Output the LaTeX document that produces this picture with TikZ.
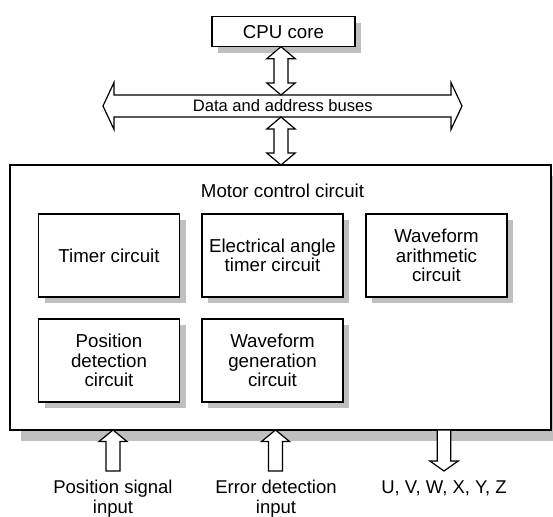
\documentclass[tikz,border=0pt]{standalone}
\usepackage{fontspec}
\setmainfont{Liberation Sans}
\usetikzlibrary{calc,shadows}
\definecolor{shade}{gray}{0.75}
\begin{document}
\begin{tikzpicture}[x=1pt,y=-1pt,
  outline/.style={draw, line width=1.2pt, fill=white, line join=miter},
  box/.style={outline, minimum width=141pt, minimum height=83pt, align=center, inner sep=0pt,
    font=\fontsize{18.7}{19.3}\selectfont,
    drop shadow={shadow xshift=6pt, shadow yshift=-6pt, fill=shade, opacity=1}},
  lbl/.style={font=\fontsize{18.5}{20}\selectfont, align=center, inner sep=0pt},
  blk/.style={draw, line width=1.2pt, fill=white, line join=miter}]
\useasboundingbox (0,0) rectangle (553,516);

% main box
\node[outline, minimum width=541pt, minimum height=265pt, inner sep=0pt,
  drop shadow={shadow xshift=11pt, shadow yshift=-11pt, fill=shade, opacity=1}] (main) at (280.5,297.5) {};
\node[lbl, font=\fontsize{18.7}{19.3}\selectfont] (mct) at (282.5,191) {Motor control circuit};

% inner boxes
\node[box] (timer) at (109,255.5) {Timer circuit};
\node[box] (elec) at (272.5,255.5) {Electrical angle\\timer circuit};
\node[box] (wfa) at (436.5,255.5) {Waveform\\arithmetic\\circuit};
\node[box] (pos) at (109,360.5) {Position\\detection\\circuit};
\node[box] (wfg) at (272.5,360.5) {Waveform\\generation\\circuit};

% CPU
\node[outline, minimum width=143pt, minimum height=30pt, inner sep=0pt,
  font=\fontsize{18.7}{19.3}\selectfont,
  drop shadow={shadow xshift=6pt, shadow yshift=-6pt, fill=shade, opacity=1}] (cpu) at (283.5,31.7) {CPU core};

% bus
\coordinate (busL) at (103,106);
\coordinate (busR) at (462,106);
\draw[blk] (busL) -- ++(11,-23.5) -- ++(0,12.5) -- ($(busR)+(-11,-11)$) -- ++(0,-12.5) -- (busR)
  -- ++(-11,23.5) -- ++(0,-12.5) -- ($(busL)+(11,11)$) -- ++(0,12.5) -- cycle;
\node[font=\fontsize{16.6}{18}\selectfont, inner sep=0pt] (busl) at (282.8,106) {Data and address buses};

% vertical double arrows
\coordinate (a1t) at (281,46.7);
\coordinate (a1b) at (281,95);
\coordinate (a2t) at (281,117);
\coordinate (a2b) at (281,165);
\foreach \t/\b in {a1t/a1b, a2t/a2b}{
  \draw[blk] (\t) -- ++(14.2,12) -- ++(-7.2,0) -- ($(\b)+(7,-12)$) -- ++(7.2,0) -- (\b)
    -- ++(-14.2,-12) -- ++(7.2,0) -- ($(\t)+(-7,12)$) -- ++(-7.2,0) -- cycle;
}

% input arrows
\coordinate (p1t) at (113,430);
\coordinate (p1b) at (113,471);
\coordinate (e1t) at (275.5,430);
\coordinate (e1b) at (275.5,471);
\foreach \t/\b in {p1t/p1b, e1t/e1b}{
  \draw[blk] (\t) -- ++(14,11.5) -- ++(-7,0) -- ($(\b)+(7,0)$) -- ++(-14,0)
    -- ($(\t)+(-7,11.5)$) -- ++(-7,0) -- cycle;
}
% output arrow
\coordinate (o1t) at (444,430);
\coordinate (o1b) at (444,471);
\draw[blk] ($(o1t)+(-6.7,0)$) -- ($(o1t)+(6.7,0)$) -- ($(o1b)+(6.7,-10)$) -- ++(7.5,0) -- (o1b)
  -- ++(-14.2,-10) -- ++(7.5,0) -- cycle;

% labels
\node[lbl, anchor=north] (lpos) at (113,479.5) {Position signal\\input};
\node[lbl, anchor=north] (lerr) at (276,479.5) {Error detection\\input};
\node[lbl, anchor=base] (lout) at (444,493.3) {U, V, W, X, Y, Z};
\end{tikzpicture}
\end{document}
